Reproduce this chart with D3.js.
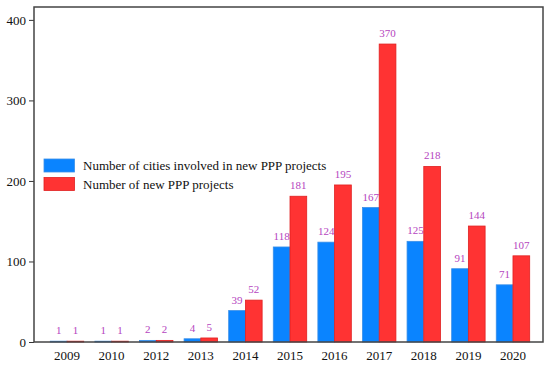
<!DOCTYPE html>
<html><head><meta charset="utf-8">
<script src="https://cdn.jsdelivr.net/npm/d3@7"></script>
<style>body{margin:0;background:#fff}</style>
</head><body>
<svg id="c" width="550" height="365"></svg>
<script>
const years = ["2009","2010","2012","2013","2014","2015","2016","2017","2018","2019","2020"];
const cities = [1,1,2,4,39,118,124,167,125,91,71];
const projects = [1,1,2,5,52,181,195,370,218,144,107];
const seriesNames = ["Number of cities involved in new PPP projects","Number of new PPP projects"];
const yTicks = [0,100,200,300,400];

const FF = '"Liberation Serif"';
const svg = d3.select("#c");
const L = 34, R = 543, T = 7, B = 342;
const x = d3.scaleBand().domain(years).range([50.3, 529.7]).paddingInner(0.25).paddingOuter(0);
const xs = d3.scaleBand().domain([0,1]).range([0, x.bandwidth()]);
const y = d3.scaleLinear().domain([0, 416]).range([B, T]);
const colors = ["#0a84ff", "#ff3333"];
const strokes = ["#3a8fe8", "#e02020"];
const data = [cities, projects];

data.forEach((vals, s) => {
  svg.append("g").selectAll("rect").data(vals).join("rect")
    .attr("x", (d, i) => x(years[i]) + xs(s))
    .attr("y", d => y(d))
    .attr("width", xs.bandwidth())
    .attr("height", d => B - y(d))
    .attr("fill", colors[s])
    .attr("stroke", strokes[s]).attr("stroke-width", 0.8);
  svg.append("g").selectAll("text").data(vals).join("text")
    .attr("x", (d, i) => x(years[i]) + xs(s) + xs.bandwidth() / 2)
    .attr("y", d => y(d) - 7)
    .attr("text-anchor", "middle")
    .style("font-family", FF).style("font-size", "11px")
    .attr("fill", "#b545c0")
    .text(d => d);
});

const ya = svg.append("g").attr("transform", `translate(${L},0)`)
  .call(d3.axisLeft(y).tickValues(yTicks).tickSize(5).tickPadding(3));
ya.select(".domain").remove();
ya.selectAll("text").style("font-family", FF).style("font-size", "13px").attr("fill", "#111");
ya.selectAll("line").attr("stroke", "#333");

const xa = svg.append("g").attr("transform", `translate(0,${B})`)
  .call(d3.axisBottom(x).tickSize(0).tickPadding(9));
xa.select(".domain").remove();
xa.selectAll("text").style("font-family", FF).style("font-size", "13px").attr("fill", "#111");

svg.append("rect").attr("x", L).attr("y", T).attr("width", R - L).attr("height", B - T)
  .attr("fill", "none").attr("stroke", "#444").attr("stroke-width", 1.5);

const lg = svg.append("g");
seriesNames.forEach((n, i) => {
  lg.append("rect").attr("x", 44).attr("y", 159 + i * 18.5).attr("width", 30.5).attr("height", 13)
    .attr("fill", colors[i]).attr("stroke", strokes[i]).attr("stroke-width", 0.8);
  lg.append("text").attr("x", 83).attr("y", 170 + i * 18.5)
    .style("font-family", FF).style("font-size", "13px").attr("fill", "#111").text(n);
});
</script>
</body></html>
